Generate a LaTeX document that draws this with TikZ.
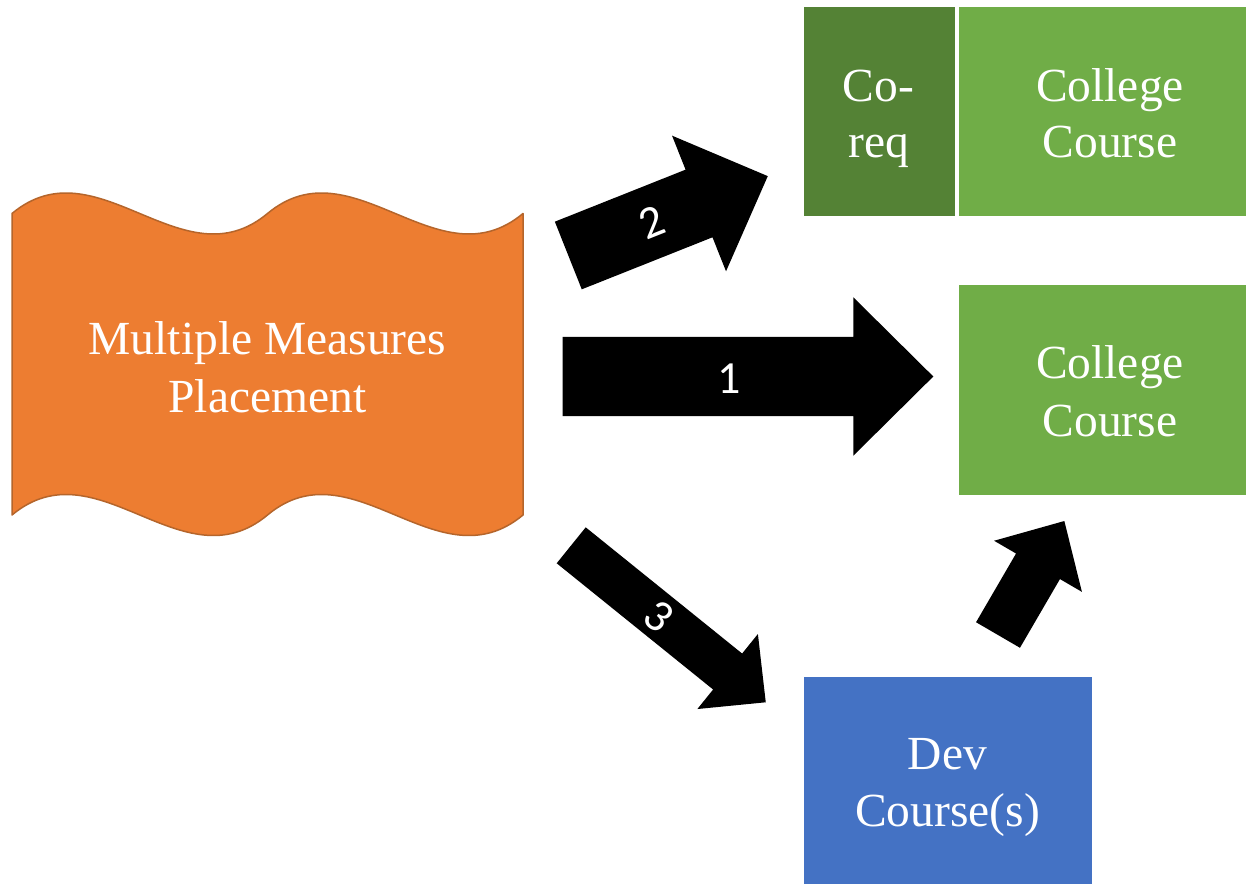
\documentclass[tikz,border=0pt]{standalone}
\usepackage{fontspec}
\setmainfont{Liberation Serif}
\newfontfamily\numfont{Carlito}
\definecolor{mmorange}{HTML}{ED7D31}
\definecolor{mmorangeline}{HTML}{B5652B}
\definecolor{coreqgreen}{HTML}{548235}
\definecolor{collgreen}{HTML}{70AD47}
\definecolor{devblue}{HTML}{4472C4}
\begin{document}
\begin{tikzpicture}[x=1pt,y=-1pt,
  box/.style={rectangle, inner sep=0pt, outer sep=0pt, draw=none},
  boxtext/.style={anchor=base, text=white, inner sep=0pt, font=\fontsize{47.5}{57}\selectfont},
  arrowlabel/.style={text=white, inner sep=0pt, font=\numfont\fontsize{46}{50}\selectfont, transform shape},
  blockarrow/.style={fill=black, draw=none}]
\useasboundingbox (0,0) rectangle (1246,883);
\fill[white] (0,0) rectangle (1246,883);

% wave shape
\filldraw[fill=mmorange, draw=mmorangeline, line width=1.5pt, line join=round]
 (12,213.5) .. controls (97.2,142.5) and (182.3,284.5) .. (267.5,213.5)
 .. controls (352.7,142.5) and (437.8,284.5) .. (523,213.5)
 -- (523,515)
 .. controls (437.8,586) and (352.7,444) .. (267.5,515)
 .. controls (182.3,586) and (97.2,444) .. (12,515) -- cycle;
\node[boxtext] (mm1) at (267.5,354) {Multiple Measures};
\node[boxtext] (mm2) at (267.5,412) {Placement};

% boxes
\node[box, fill=coreqgreen, minimum width=151.5pt, minimum height=209pt] (coreq) at (879.25,111.5) {};
\node[box, fill=collgreen, minimum width=302pt, minimum height=209pt] (coll1) at (1110,111.5) {};
\node[box, fill=collgreen, minimum width=302pt, minimum height=210pt] (coll2) at (1110,389.5) {};
\node[box, fill=devblue, minimum width=288pt, minimum height=210pt] (dev) at (947.5,781.5) {};

\node[boxtext] (coreq1) at (878.5,101) {Co-};
\node[boxtext] (coreq2) at (878.5,157) {req};
\node[boxtext] (coll1a) at (1110,101) {College};
\node[boxtext] (coll1b) at (1110,157) {Course};
\node[boxtext] (coll2a) at (1110,378.5) {College};
\node[boxtext] (coll2b) at (1110,436) {Course};
\node[boxtext] (deva) at (947.5,769) {Dev};
\node[boxtext] (devb) at (947.5,826.6) {Course(s)};

% arrow 1
\begin{scope}[shift={(562.7,376.5)}]
 \fill[blockarrow] (0,-39.6) -- (290.6,-39.6) -- (290.6,-79.2) -- (370.6,0) -- (290.6,79.2) -- (290.6,39.6) -- (0,39.6) -- cycle;
 \node[arrowlabel] (lab1) at (166.3,1.8) {1};
\end{scope}
% arrow 2
\begin{scope}[shift={(568.3,255.5)}, rotate=21.7]
 \fill[blockarrow] (0,-36.4) -- (140.7,-36.4) -- (140.7,-73) -- (214.7,0) -- (140.7,73) -- (140.7,36.4) -- (0,36.4) -- cycle;
 \node[arrowlabel] (lab2) at (89.4,0) {2};
\end{scope}
% arrow 3
\begin{scope}[shift={(571.2,545.3)}, rotate=-38.9]
 \fill[blockarrow] (0,-23.1) -- (201,-23.1) -- (201,-48.2) -- (250,0) -- (201,48.2) -- (201,23.1) -- (0,23.1) -- cycle;
 \node[arrowlabel] (lab3) at (113,0) {3};
\end{scope}
% arrow 4
\begin{scope}[shift={(998,635)}, rotate=59.8]
 \fill[blockarrow] (0,-25.4) -- (79.5,-25.4) -- (79.5,-50.8) -- (131.9,0) -- (79.5,50.8) -- (79.5,25.4) -- (0,25.4) -- cycle;
\end{scope}
\end{tikzpicture}
\end{document}
